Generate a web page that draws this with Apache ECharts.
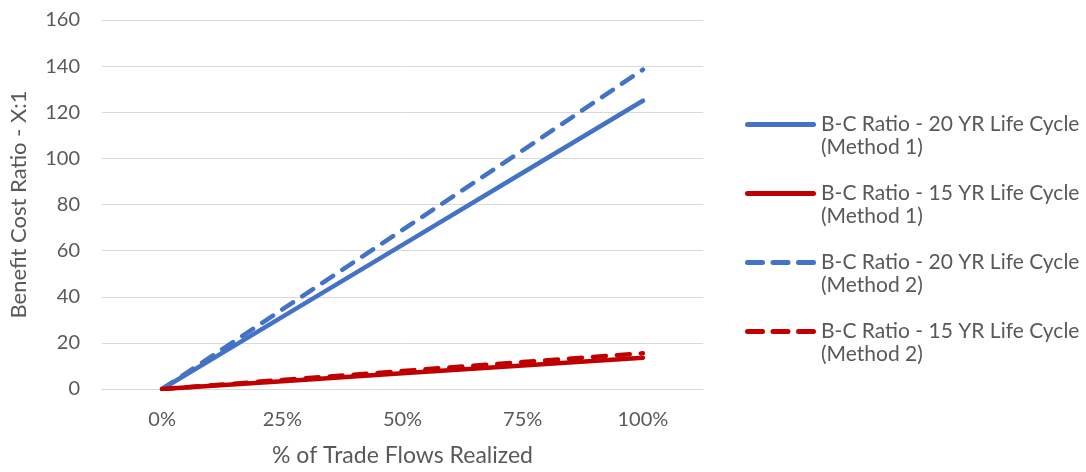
<!DOCTYPE html>
<html>
<head>
<meta charset="utf-8">
<script src="https://cdn.jsdelivr.net/npm/echarts@6/dist/echarts.min.js"></script>
<style>
  html, body { margin: 0; padding: 0; background: #fff; }
  #chart { width: 1086px; height: 472px; }
</style>
</head>
<body>
<div id="chart"></div>
<script>
// Share of trade flows realized (x-axis categories)
const categories = ['0%', '25%', '50%', '75%', '100%'];

// Benefit-cost ratios (X:1) for each scenario
const bc20Method1 = [0, 31.25, 62.5, 93.75, 125];
const bc15Method1 = [0, 3.4, 6.8, 10.2, 13.6];
const bc20Method2 = [0, 34.5, 69, 103.5, 138.5];
const bc15Method2 = [0, 3.9, 7.8, 11.7, 15.5];

const seriesNames = [
  'B-C Ratio - 20 YR Life Cycle\n(Method 1)',
  'B-C Ratio - 15 YR Life Cycle\n(Method 1)',
  'B-C Ratio - 20 YR Life Cycle\n(Method 2)',
  'B-C Ratio - 15 YR Life Cycle\n(Method 2)'
];

const BLUE = '#4472C4';
const RED = '#C00000';
const TEXT = '#595959';
const FONT = 'Lato, "Open Sans", sans-serif';
const DASH = [13, 11];

// Legend swatches: a rounded bar for solid lines, three rounded dashes for dashed lines
function pill(x, len) {
  return 'M' + (x + 2.5) + ',0h' + (len - 5) + 'a2.5,2.5 0 0 1 0,5h-' + (len - 5) + 'a2.5,2.5 0 0 1 0,-5z';
}
const SOLID_ICON = 'path://' + pill(0, 71);
const DASH_ICON = 'path://' + pill(0, 20) + ' ' + pill(25.5, 20) + ' ' + pill(51, 20);

function lineSeries(name, data, color, dashed) {
  return {
    name: name,
    type: 'line',
    data: data,
    symbol: 'none',
    showSymbol: false,
    color: color,
    lineStyle: { color: color, width: 4.5, type: dashed ? DASH : 'solid', cap: 'round', join: 'round' },
    itemStyle: { color: color }
  };
}

const chart = echarts.init(document.getElementById('chart'), null, { renderer: 'canvas' });
chart.setOption({
  animation: false,
  textStyle: { fontFamily: FONT },
  grid: { left: 101, right: 383, top: 20, bottom: 82, containLabel: false },
  legend: {
    orient: 'vertical',
    left: 745,
    top: 90,
    padding: 0,
    itemWidth: 71,
    itemHeight: 5,
    itemGap: 0,
    itemTextGap: 6,
    symbolKeepAspect: false,
    // leading blank line keeps the swatch level with the first text line
    formatter: function (name) { return '\n' + name; },
    textStyle: {
      color: TEXT,
      fontSize: 21,
      fontFamily: FONT,
      lineHeight: 23
    },
    data: [
      { name: seriesNames[0], icon: SOLID_ICON },
      { name: seriesNames[1], icon: SOLID_ICON },
      { name: seriesNames[2], icon: DASH_ICON },
      { name: seriesNames[3], icon: DASH_ICON }
    ]
  },
  xAxis: {
    type: 'category',
    data: categories,
    boundaryGap: true,
    name: '% of Trade Flows Realized',
    nameLocation: 'middle',
    nameGap: 55,
    nameTextStyle: { color: TEXT, fontSize: 23, fontFamily: FONT },
    axisLine: { show: true, lineStyle: { color: '#D9D9D9', width: 1 } },
    axisTick: { show: false },
    axisLabel: { color: TEXT, fontSize: 20, fontFamily: FONT, margin: 21 }
  },
  yAxis: {
    type: 'value',
    min: 0,
    max: 160,
    interval: 20,
    name: 'Benefit Cost Ratio - X:1',
    nameLocation: 'middle',
    nameRotate: 90,
    nameGap: 72,
    nameTextStyle: { color: TEXT, fontSize: 22, fontFamily: FONT },
    axisLine: { show: false },
    axisTick: { show: false },
    axisLabel: { color: TEXT, fontSize: 20, fontFamily: FONT, margin: 22 },
    splitLine: { lineStyle: { color: '#D9D9D9', width: 1 } }
  },
  series: [
    lineSeries(seriesNames[0], bc20Method1, BLUE, false),
    lineSeries(seriesNames[1], bc15Method1, RED, false),
    lineSeries(seriesNames[2], bc20Method2, BLUE, true),
    lineSeries(seriesNames[3], bc15Method2, RED, true)
  ]
});
</script>
</body>
</html>
